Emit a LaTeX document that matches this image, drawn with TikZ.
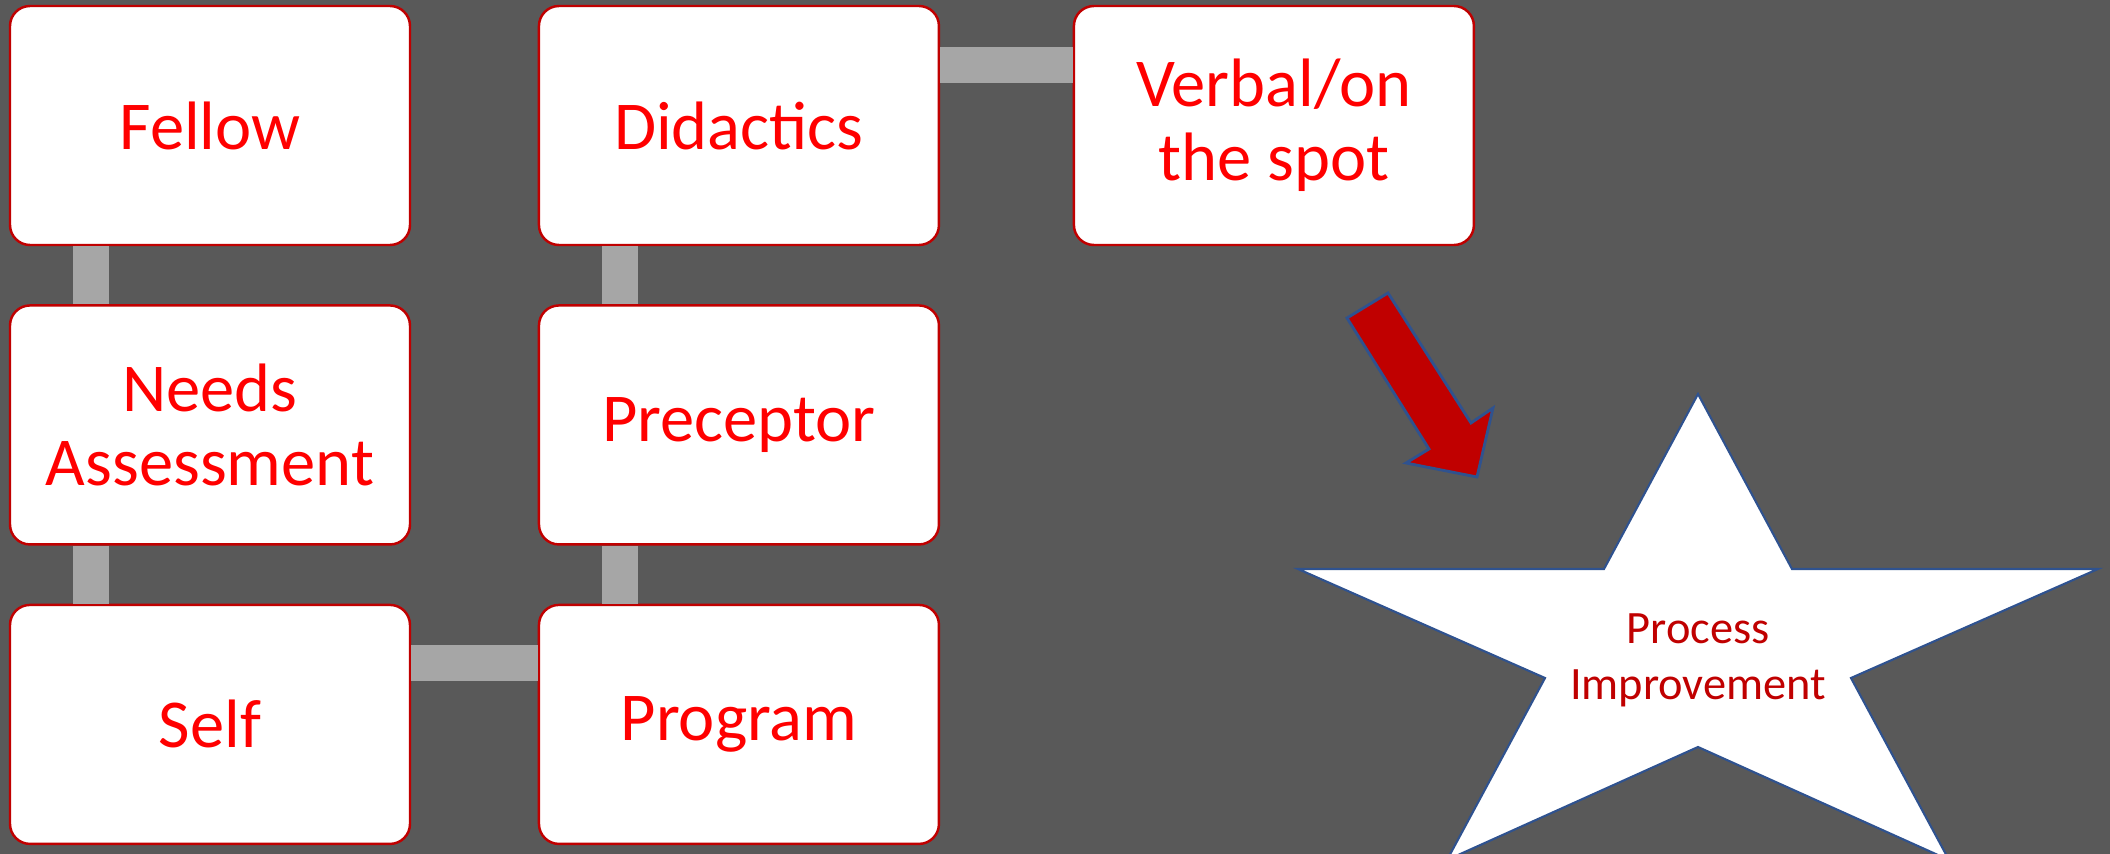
\documentclass[tikz,border=0pt]{standalone}
\usepackage{fontspec}
\setmainfont{Carlito}
\usetikzlibrary{positioning}
\definecolor{fbBack}{HTML}{595959}
\definecolor{fbLink}{HTML}{A6A6A6}
\definecolor{fbEdge}{HTML}{C00000}
\definecolor{fbText}{HTML}{FF0000}
\definecolor{fbBlue}{HTML}{2F528F}
\tikzset{
  fbbox/.style={draw=fbEdge,line width=0.7pt,fill=white,text=fbText,rounded corners=2mm,
                minimum width=40mm,minimum height=23.9mm,align=center,inner sep=2pt,
                font=\fontsize{19.5}{21}\selectfont},
  fblink/.style={draw=fbLink,line width=3.6mm},
  fbpointer/.style={draw=fbBlue,line width=0.8pt,fill=fbEdge,line join=miter},
  fbstar/.style={draw=fbBlue,line width=0.6pt,fill=white,line join=miter},
  fbstartext/.style={text=fbEdge,align=center,font=\fontsize{13.2}{16}\selectfont},
}

\begin{document}
\begin{tikzpicture}[x=0.1mm,y=-0.1mm,node distance=5.8mm and 12.65mm]
  \fill[fbBack] (0,0) rectangle (2110,854);
  \clip (0,0) rectangle (2110,854);

  % three columns of feedback sources
  \node[fbbox] at (210,125.5) (F) {Fellow};
  \node[fbbox,below=of F] (N) {Needs\\Assessment};
  \node[fbbox,below=of N] (S) {Self};
  \node[fbbox,right=of F] (D) {Didactics};
  \node[fbbox,right=of N] (P) {Preceptor};
  \node[fbbox,right=of S] (G) {Program};
  \node[fbbox,right=13.25mm of D] (V) {Verbal/on\\the spot};

  \draw[fblink] ([xshift=8.2mm]F.south west) -- ([xshift=8.2mm]N.north west);
  \draw[fblink] ([xshift=8.2mm]N.south west) -- ([xshift=8.2mm]S.north west);
  \draw[fblink] ([yshift=-5.9mm]S.north east) -- ([yshift=-5.9mm]G.north west);
  \draw[fblink] ([xshift=8.2mm]G.north west) -- ([xshift=8.2mm]P.south west);
  \draw[fblink] ([xshift=8.2mm]P.north west) -- ([xshift=8.2mm]D.south west);
  \draw[fblink] ([yshift=-6mm]D.north east) -- ([yshift=-6mm]V.north west);

  % block arrow down to the star
  \draw[fbpointer] (1347,318) -- (1388,293) -- (1471,423) -- (1493,408)
    -- (1477,477) -- (1406,463) -- (1429,449) -- cycle;

  % star
  \draw[fbstar] (1698,394) -- (1792,569) -- (2098,569) -- (1851,678) -- (1949,860)
    -- (1698,747) -- (1447,860) -- (1545,678) -- (1298,569) -- (1604,569) -- cycle;
  \node[fbstartext] at (1698,660) (PI) {Process\\Improvement};
\end{tikzpicture}
\end{document}
